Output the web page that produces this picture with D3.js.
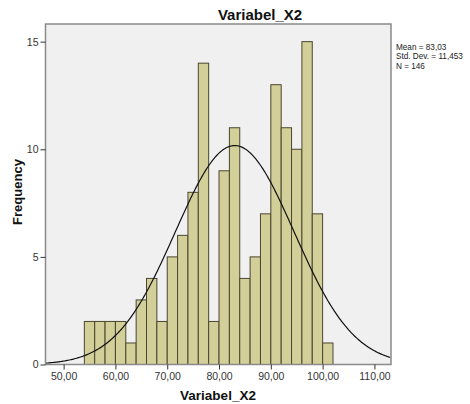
<!DOCTYPE html>
<html><head><meta charset="utf-8">
<script src="https://cdn.jsdelivr.net/npm/d3@7"></script>
<style>
body{margin:0;background:#fff;}
text{font-family:"Liberation Sans",Arial,sans-serif;}
</style></head>
<body>
<svg id="chart" width="470" height="404"></svg>
<script>
const binStarts = [54,56,58,60,62,64,66,68,70,72,74,76,78,80,82,84,86,88,90,92,94,96,98,100];
const counts    = [2,2,2,2,1,3,4,2,5,6,8,14,2,9,11,4,5,7,13,11,10,15,7,1];
const binWidth = 2;
const xTicks = [50,60,70,80,90,100,110];
const yTicks = [0,5,10,15];
const stats = {mean:83.03, sd:11.453, n:146};
const statLabels = ["Mean = 83,03","Std. Dev. = 11,453","N = 146"];
const title = "Variabel_X2";

const svg = d3.select("#chart");
const L = 45.5, R = 391, T = 24, B = 364.5;
const x = d3.scaleLinear().domain([46.5, 113.2]).range([L, R]);
const y = d3.scaleLinear().domain([0, 15.82]).range([B, T]);

svg.append("rect").attr("x",L).attr("y",T).attr("width",R-L).attr("height",B-T)
  .attr("fill","#f0f0f0");

svg.append("defs").append("clipPath").attr("id","clip")
  .append("rect").attr("x",L).attr("y",T).attr("width",R-L).attr("height",B-T);

const bars = binStarts.map((s,i)=>({s, c:counts[i]}));
svg.append("g").selectAll("rect").data(bars).join("rect")
  .attr("x",d=>x(d.s)).attr("width",d=>x(d.s+binWidth)-x(d.s))
  .attr("y",d=>y(d.c)).attr("height",d=>y(0)-y(d.c))
  .attr("fill","#d3cf98").attr("stroke","#4a4630").attr("stroke-width",1);

// normal curve
const pdf = v => stats.n*binWidth/(stats.sd*Math.sqrt(2*Math.PI))*Math.exp(-0.5*((v-stats.mean)/stats.sd)**2);
const pts = d3.range(x.domain()[0], x.domain()[1]+0.1, 0.2).map(v=>[v,pdf(v)]);
svg.append("path").attr("clip-path","url(#clip)")
  .attr("d", d3.line().x(d=>x(d[0])).y(d=>y(d[1]))(pts))
  .attr("fill","none").attr("stroke","#111").attr("stroke-width",1.2);

// frame
svg.append("rect").attr("x",L).attr("y",T).attr("width",R-L).attr("height",B-T)
  .attr("fill","none").attr("stroke","#8a8a8a").attr("stroke-width",1.5);

const fmt = v => d3.format(".2f")(v).replace(".",",");
const xa = svg.append("g").attr("transform",`translate(0,${B})`)
  .call(d3.axisBottom(x).tickValues(xTicks).tickFormat(fmt).tickSize(5).tickPadding(3));
xa.select(".domain").remove();
xa.selectAll("line").attr("stroke","#333");
xa.selectAll("text").attr("font-size",10.5).attr("fill","#333")
  .attr("font-family","Liberation Sans,Arial,sans-serif");

const ya = svg.append("g").attr("transform",`translate(${L},0)`)
  .call(d3.axisLeft(y).tickValues(yTicks).tickFormat(d3.format("d")).tickSize(5).tickPadding(2));
ya.select(".domain").remove();
ya.selectAll("line").attr("stroke","#333");
ya.selectAll("text").attr("font-size",10.5).attr("fill","#333")
  .attr("font-family","Liberation Sans,Arial,sans-serif");

svg.append("text").attr("x",260).attr("y",20).attr("text-anchor","middle")
  .attr("font-size",15).attr("font-weight","bold").attr("fill","#111").text(title);
svg.append("text").attr("x",218).attr("y",400).attr("text-anchor","middle")
  .attr("font-size",13.5).attr("font-weight","bold").attr("fill","#111").text(title);
svg.append("text").attr("transform","translate(22,192) rotate(-90)").attr("text-anchor","middle")
  .attr("font-size",13).attr("font-weight","bold").attr("fill","#111").text("Frequency");

svg.append("g").selectAll("text").data(statLabels).join("text")
  .attr("x",396).attr("y",(d,i)=>50+i*9.3)
  .attr("font-size",8.2).attr("fill","#222").text(d=>d);
</script>
</body></html>
